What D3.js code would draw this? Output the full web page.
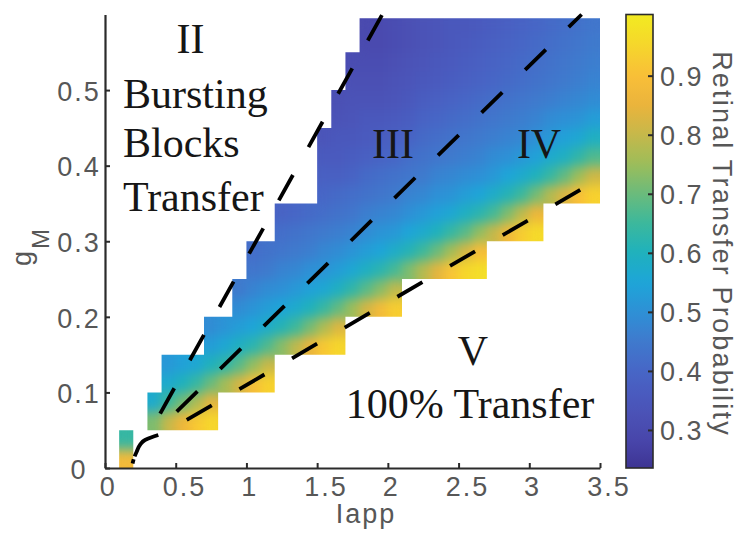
<!DOCTYPE html>
<html>
<head>
<meta charset="utf-8">
<script src="https://cdn.jsdelivr.net/npm/d3@7"></script>
<style>
  body { margin: 0; background: #fff; }
  svg { display: block; }
  .tick-label { font-family: "Liberation Sans", Arial, sans-serif; font-size: 27px; letter-spacing: 2px; fill: #575757; }
  .region { font-family: "Liberation Serif", "Times New Roman", serif; font-size: 42px; fill: #161616; }
</style>
</head>
<body>
<svg id="chart" width="746" height="533"></svg>
<script>
// ---- data ----
// left edge (Iapp) of each simulated column, every column is 0.1 wide
const iappLeft = [0.1, 0.3, 0.4, 0.5, 0.6, 0.7, 0.8, 0.9, 1.0, 1.1, 1.2, 1.3, 1.4, 1.5, 1.6, 1.7,
  1.8, 1.9, 2.0, 2.1, 2.2, 2.3, 2.4, 2.5, 2.6, 2.7, 2.8, 2.9, 3.0, 3.1, 3.2, 3.3, 3.4];
// lowest gM of each column
const gmBottom = [0, 0.05, 0.05, 0.05, 0.05, 0.05, 0.1, 0.1, 0.1, 0.1, 0.15, 0.15, 0.15, 0.15, 0.15, 0.2,
  0.2, 0.2, 0.2, 0.25, 0.25, 0.25, 0.25, 0.25, 0.25, 0.3, 0.3, 0.3, 0.3, 0.35, 0.35, 0.35, 0.35];
const dIapp = 0.1;
const dGm = 0.025;
const gmMax = 0.595;
// retinal transfer probability, per column, from bottom to top in gM steps of 0.025
const prob = [
  [0.88, 0.64],
  [0.72, 0.57],
  [0.80, 0.65, 0.57, 0.52],
  [0.86, 0.71, 0.60, 0.54],
  [0.92, 0.77, 0.64, 0.56],
  [0.95, 0.84, 0.70, 0.60, 0.53, 0.49],
  [0.76, 0.63, 0.56, 0.51],
  [0.82, 0.68, 0.59, 0.53, 0.49, 0.45],
  [0.89, 0.74, 0.62, 0.55, 0.51, 0.47, 0.44, 0.42],
  [0.94, 0.80, 0.67, 0.58, 0.53, 0.49, 0.45, 0.43],
  [0.73, 0.61, 0.55, 0.50, 0.47, 0.44, 0.42, 0.39],
  [0.79, 0.65, 0.57, 0.52, 0.48, 0.45, 0.43, 0.40],
  [0.85, 0.71, 0.60, 0.54, 0.50, 0.46, 0.44, 0.41],
  [0.92, 0.77, 0.64, 0.56, 0.51, 0.48, 0.45, 0.42, 0.40, 0.38, 0.36, 0.34],
  [0.95, 0.83, 0.69, 0.59, 0.53, 0.49, 0.46, 0.43, 0.41, 0.38, 0.36, 0.35, 0.33, 0.32],
  [0.75, 0.63, 0.56, 0.51, 0.47, 0.44, 0.42, 0.39, 0.37, 0.35, 0.34, 0.33, 0.32, 0.31],
  [0.82, 0.68, 0.59, 0.53, 0.49, 0.46, 0.43, 0.41, 0.38, 0.36, 0.35, 0.33, 0.32, 0.31, 0.30, 0.30],
  [0.88, 0.73, 0.62, 0.55, 0.51, 0.47, 0.44, 0.42, 0.39, 0.37, 0.35, 0.33, 0.32, 0.31, 0.30, 0.30],
  [0.93, 0.79, 0.66, 0.58, 0.52, 0.48, 0.45, 0.43, 0.40, 0.38, 0.36, 0.34, 0.33, 0.32, 0.31, 0.31],
  [0.72, 0.61, 0.55, 0.50, 0.47, 0.44, 0.42, 0.39, 0.37, 0.35, 0.34, 0.33, 0.32, 0.32],
  [0.78, 0.65, 0.57, 0.52, 0.48, 0.45, 0.43, 0.41, 0.39, 0.37, 0.35, 0.34, 0.33, 0.33],
  [0.84, 0.70, 0.60, 0.54, 0.50, 0.47, 0.44, 0.42, 0.40, 0.38, 0.36, 0.35, 0.34, 0.34],
  [0.91, 0.76, 0.64, 0.56, 0.51, 0.48, 0.45, 0.43, 0.41, 0.39, 0.37, 0.36, 0.35, 0.35],
  [0.95, 0.82, 0.68, 0.59, 0.53, 0.49, 0.46, 0.44, 0.42, 0.40, 0.38, 0.37, 0.36, 0.35],
  [0.97, 0.89, 0.74, 0.62, 0.55, 0.50, 0.47, 0.45, 0.43, 0.41, 0.39, 0.38, 0.37, 0.36],
  [0.80, 0.66, 0.58, 0.52, 0.49, 0.46, 0.44, 0.42, 0.40, 0.39, 0.38, 0.37],
  [0.87, 0.72, 0.61, 0.55, 0.50, 0.47, 0.45, 0.43, 0.41, 0.40, 0.39, 0.38],
  [0.93, 0.79, 0.65, 0.57, 0.52, 0.48, 0.46, 0.44, 0.42, 0.41, 0.40, 0.39],
  [0.96, 0.86, 0.71, 0.60, 0.54, 0.50, 0.47, 0.45, 0.43, 0.42, 0.41, 0.40],
  [0.78, 0.64, 0.57, 0.52, 0.49, 0.46, 0.44, 0.43, 0.42, 0.41],
  [0.83, 0.69, 0.59, 0.54, 0.50, 0.47, 0.45, 0.44, 0.43, 0.42],
  [0.90, 0.75, 0.63, 0.56, 0.51, 0.48, 0.46, 0.45, 0.44, 0.43],
  [0.94, 0.81, 0.67, 0.59, 0.53, 0.49, 0.47, 0.46, 0.45, 0.44]
];
// region boundaries (Iapp, gM)
const dividers = [
  [[0.39, 0.072], [2.02, 0.62]],
  [[0.507, 0.0746], [3.37, 0.60]],
  [[0.578, 0.0636], [3.36, 0.368]]
];
const originCurve = [[0.377, 0.0437], [0.33, 0.0407], [0.283, 0.037], [0.247, 0.0305],
  [0.224, 0.0216], [0.205, 0.013], [0.195, 0.006]];

const xTicks = [0, 0.5, 1, 1.5, 2, 2.5, 3, 3.5];
const yTicks = [0, 0.1, 0.2, 0.3, 0.4, 0.5];
const cbTicks = [0.3, 0.4, 0.5, 0.6, 0.7, 0.8, 0.9];
const cLimits = [0.2356, 1.0036];
// colormap as it appears in the figure
const cmapStops = [0.235, 0.28, 0.32, 0.36, 0.40, 0.45, 0.50, 0.55, 0.60, 0.65, 0.70, 0.75, 0.80, 0.85, 0.90, 0.95, 1.0];
const cmapColors = ["#3d3492", "#4845aa", "#4b50b4", "#4a5abe", "#4766c6", "#3f7acd", "#2e90d6", "#1ea5d8",
  "#1fb1bd", "#3cb89c", "#6abb7c", "#9cbd5a", "#c6b84a", "#eab43c", "#f9bf38", "#f6d62c", "#f2ea22"];

// ---- drawing ----
const svg = d3.select("#chart");
const defs = svg.append("defs");

const x = d3.scaleLinear().domain([0, 3.5]).range([105, 600]);
const y = d3.scaleLinear().domain([0, 0.6]).range([468, 14.5]);
const color = d3.scaleLinear().domain(cmapStops).range(cmapColors).clamp(true);

const cells = iappLeft.flatMap((i0, i) => prob[i].map((p, k) => {
  const g0 = gmBottom[i] + k * dGm;
  return { i0, i1: i0 + dIapp, g0, g1: Math.min(g0 + dGm, gmMax), p };
}));

// smooth shading like MATLAB's interpolated pcolor: blur, then restore opacity, then clip to the cells
const filt = defs.append("filter").attr("id", "smooth")
  .attr("x", "-10%").attr("y", "-10%").attr("width", "120%").attr("height", "120%")
  .attr("color-interpolation-filters", "sRGB");
filt.append("feGaussianBlur").attr("stdDeviation", "5 6");
filt.append("feComponentTransfer").append("feFuncA").attr("type", "linear").attr("slope", 40).attr("intercept", 0);

defs.append("clipPath").attr("id", "cellClip")
  .append("path")
  .attr("d", cells.map(c => `M${x(c.i0)},${y(c.g1)}H${x(c.i1)}V${y(c.g0)}H${x(c.i0)}Z`).join(""));

svg.append("g").attr("clip-path", "url(#cellClip)")
  .append("g").attr("filter", "url(#smooth)")
  .selectAll("rect").data(cells).join("rect")
  .attr("x", d => x(d.i0) - 0.5)
  .attr("y", d => y(d.g1) - 0.5)
  .attr("width", d => x(d.i1) - x(d.i0) + 1)
  .attr("height", d => y(d.g0) - y(d.g1) + 1)
  .attr("fill", d => color(d.p));

// axes (box off, ticks pointing in)
const xAxis = svg.append("g").attr("transform", "translate(0,468)")
  .call(d3.axisBottom(x).tickValues(xTicks).tickSizeInner(-5).tickSizeOuter(0).tickPadding(9)
    .tickFormat(d3.format("")));
const yAxis = svg.append("g").attr("transform", "translate(105,0)")
  .call(d3.axisLeft(y).tickValues(yTicks).tickSizeInner(-5).tickSizeOuter(0).tickFormat(d3.format("")));

[xAxis, yAxis].forEach(a => {
  a.select(".domain").attr("stroke", "#2b2b2b").attr("stroke-width", 2.2);
  a.selectAll(".tick line").attr("stroke", "#2b2b2b").attr("stroke-width", 2);
  a.selectAll(".tick text").attr("class", "tick-label").attr("fill", null);
});
xAxis.selectAll(".tick text").attr("dx", d => String(d).length * 2.8);
yAxis.selectAll(".tick text").attr("text-anchor", "middle").attr("x", -26).attr("dy", "0.38em");

svg.append("text").attr("class", "tick-label")
  .attr("x", 366).attr("y", 523).attr("text-anchor", "middle").text("Iapp");

const yl = svg.append("text").attr("class", "tick-label")
  .attr("transform", "translate(31,266) rotate(-90)").attr("font-size", 27);
yl.append("tspan").text("g");
yl.append("tspan").attr("dy", 18).attr("font-size", 24).text("M");

// region boundaries
const line = d3.line().x(d => x(d[0])).y(d => y(d[1]));
svg.append("g").selectAll("path").data(dividers).join("path")
  .attr("d", line)
  .attr("fill", "none").attr("stroke", "#000").attr("stroke-width", 3.8)
  .attr("stroke-dasharray", "29 32");
svg.append("path").datum(originCurve)
  .attr("d", line.curve(d3.curveMonotoneY))
  .attr("fill", "none").attr("stroke", "#000").attr("stroke-width", 3.8)
  .attr("stroke-dasharray", "34 3 20 40");

// region labels
const region = (t, ix, gm, anchor) => svg.append("text").attr("class", "region")
  .attr("x", x(ix)).attr("y", y(gm)).attr("text-anchor", anchor).text(t);
region("II", 0.6045, 0.549, "middle");
region("Bursting", 0.127, 0.4763, "start");
region("Blocks", 0.127, 0.4115, "start");
region("Transfer", 0.127, 0.340, "start");
region("III", 2.036, 0.410, "middle");
region("IV", 3.069, 0.410, "middle");
region("V", 2.602, 0.1363, "middle");
region("100% Transfer", 2.581, 0.0662, "middle");

// colorbar
const cb = d3.scaleLinear().domain(cLimits).range([468, 14.5]);
const grad = defs.append("linearGradient").attr("id", "cbGrad")
  .attr("x1", 0).attr("y1", 1).attr("x2", 0).attr("y2", 0);
grad.selectAll("stop").data(d3.range(0, 1.0001, 0.02)).join("stop")
  .attr("offset", t => t)
  .attr("stop-color", t => color(cLimits[0] + t * (cLimits[1] - cLimits[0])));
svg.append("rect").attr("x", 626).attr("y", cb(cLimits[1])).attr("width", 27)
  .attr("height", cb(cLimits[0]) - cb(cLimits[1]))
  .attr("fill", "url(#cbGrad)").attr("stroke", "#2b2b2b").attr("stroke-width", 1.6);
const cbAxis = svg.append("g").attr("transform", "translate(653,0)")
  .call(d3.axisRight(cb).tickValues(cbTicks).tickSizeInner(-5).tickSizeOuter(0).tickPadding(7)
    .tickFormat(d3.format("")));
cbAxis.select(".domain").remove();
cbAxis.selectAll(".tick line").attr("stroke", "#2b2b2b").attr("stroke-width", 2);
cbAxis.selectAll(".tick text").attr("class", "tick-label").attr("fill", null).attr("dy", "0.36em");

svg.append("text").attr("class", "tick-label")
  .attr("transform", "translate(713,244) rotate(90)")
  .attr("text-anchor", "middle").attr("font-size", 24).style("letter-spacing", "2.2px")
  .text("Retinal Transfer Probability");
</script>
</body>
</html>
